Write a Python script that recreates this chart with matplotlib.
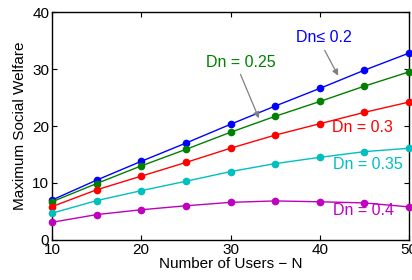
import matplotlib
matplotlib.use("Agg")
import matplotlib.pyplot as plt

users = [10, 15, 20, 25, 30, 35, 40, 45, 50]
sw_02 = [7.0, 10.5, 13.8, 17.0, 20.3, 23.5, 26.6, 29.8, 32.8]
sw_025 = [6.7, 9.9, 13.0, 15.9, 18.9, 21.7, 24.3, 27.0, 29.5]
sw_03 = [5.85, 8.8, 11.2, 13.6, 16.1, 18.4, 20.4, 22.4, 24.2]
sw_035 = [4.7, 6.9, 8.65, 10.3, 12.0, 13.4, 14.5, 15.5, 16.1]
sw_04 = [3.1, 4.45, 5.3, 6.0, 6.6, 6.85, 6.7, 6.5, 5.8]

xticks = [10, 20, 30, 40, 50]
yticks = [0, 10, 20, 30, 40]

plt.rcParams['font.family'] = ['Liberation Sans', 'DejaVu Sans']

fig = plt.figure(figsize=(4.12, 2.80), dpi=100)
ax = fig.add_axes([0.126, 0.143, 0.867, 0.814])

series = [
    (sw_02, (0, 0, 1)),
    (sw_025, (0, 0.5, 0)),
    (sw_03, (1, 0, 0)),
    (sw_035, (0, 0.75, 0.75)),
    (sw_04, (0.75, 0, 0.75)),
]
for vals, c in series:
    ax.plot(users, vals, '-', color=c, lw=1.0, marker='o', markersize=4.5, clip_on=False, zorder=3)

ax.set_xlim(10, 50)
ax.set_ylim(0, 40)
ax.set_xticks(xticks)
ax.set_yticks(yticks)
ax.tick_params(direction='in', top=True, right=True, length=3.5, width=0.8, labelsize=11, pad=2)
for s in ax.spines.values():
    s.set_linewidth(1.0)
ax.set_xlabel('Number of Users − N', fontsize=11, labelpad=0)
ax.set_ylabel('Maximum Social Welfare', fontsize=11, labelpad=4)

gray = (0.5, 0.5, 0.5)
ax.text(40.5, 35.6, 'Dn≤ 0.2', color=(0, 0, 1), fontsize=11.5, ha='center', va='center')
ax.annotate('', xy=(42.2, 28.4), xytext=(40.4, 33.7),
            arrowprops=dict(arrowstyle='-|>', color=gray, lw=0.9, mutation_scale=9))
ax.text(31.2, 31.2, 'Dn = 0.25', color=(0, 0.5, 0), fontsize=11.5, ha='center', va='center')
ax.annotate('', xy=(33.3, 20.9), xytext=(31.0, 29.5),
            arrowprops=dict(arrowstyle='-|>', color=gray, lw=0.9, mutation_scale=9))
ax.text(44.8, 19.8, 'Dn = 0.3', color=(1, 0, 0), fontsize=11.5, ha='center', va='center')
ax.text(45.4, 13.3, 'Dn = 0.35', color=(0, 0.75, 0.75), fontsize=11.5, ha='center', va='center')
ax.text(44.9, 5.1, 'Dn = 0.4', color=(0.75, 0, 0.75), fontsize=11.5, ha='center', va='center')

fig.savefig('out.png', dpi=100)
